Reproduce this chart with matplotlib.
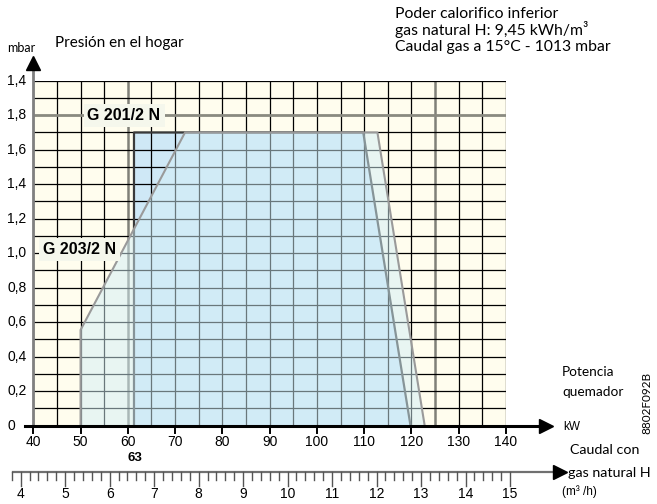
import matplotlib
matplotlib.use("Agg")
import matplotlib.pyplot as plt
import numpy as np
from matplotlib.patches import Polygon
from matplotlib.transforms import blended_transform_factory as btf

# ---------------- data ----------------
kw_ticks = [40, 50, 60, 70, 80, 90, 100, 110, 120, 130, 140]
mbar_ticks = [0, 0.2, 0.4, 0.6, 0.8, 1.0, 1.2, 1.4, 1.6, 1.8, 2.0]
mbar_labels = ["0", "0,2", "0,4", "0,6", "0,8", "1,0", "1,2", "1,4", "1,6", "1,8", "1,4"]
flow_ticks = [4, 5, 6, 7, 8, 9, 10, 11, 12, 13, 14, 15]

# G 201/2 N working field (kW, mbar)
g201_kw = [61.3, 61.3, 109.8, 119.8]
g201_mbar = [0.0, 1.70, 1.70, 0.0]
# G 203/2 N working field (kW, mbar)
g203_kw = [50.0, 50.0, 72.1, 112.8, 122.8]
g203_mbar = [0.0, 0.555, 1.70, 1.70, 0.0]
min_power_label = "63"

W, H = 657, 504
fig = plt.figure(figsize=(W / 100, H / 100), dpi=100)
fig.patch.set_facecolor("white")

# pixel geometry of the main grid
x0p, x1p = 33.3, 506.0
y0p, y1p = 425.7, 80.7
ax = fig.add_axes([x0p / W, 1 - y0p / H, (x1p - x0p) / W, (y0p - y1p) / H])
ax.set_xlim(40, 140)
ax.set_ylim(0, 2.0)
for s in ax.spines.values():
    s.set_visible(False)
ax.set_xticks([])
ax.set_yticks([])
ax.set_facecolor("#fffdee")

# blue field (opaque, below grid)
blue = Polygon(np.column_stack([g201_kw, g201_mbar]), closed=True,
               facecolor="#cfe8f6", edgecolor="none", zorder=1)
ax.add_patch(blue)

# grid
for xv in np.arange(40, 140.1, 5):
    if xv in (60, 125):
        ax.plot([xv, xv], [0, 2.0], color="#808078", lw=1.8, zorder=2)
    else:
        ax.plot([xv, xv], [0, 2.0], color="black", lw=0.9, zorder=2)
for yv in np.arange(0.1, 2.01, 0.1):
    if abs(yv - 1.8) < 1e-6:
        ax.plot([40, 140], [yv, yv], color="#8a8a80", lw=2.0, zorder=2.2)
    else:
        ax.plot([40, 140], [yv, yv], color="black", lw=0.9, zorder=2)

# blue outline
ax.plot(g201_kw, g201_mbar, color="#3a3a3a", lw=1.6, zorder=3)

# light translucent G 203 field on top
light = Polygon(np.column_stack([g203_kw, g203_mbar]), closed=True,
                facecolor=(211 / 255, 239 / 255, 246 / 255), alpha=0.5,
                edgecolor="none", zorder=4)
ax.add_patch(light)
ax.plot(g203_kw, g203_mbar, color="#9a9a9a", lw=1.5, zorder=4.5)

# axes lines with arrows
ax.plot([40, 40], [0, 2.08], color="#808080", lw=2.0, zorder=5, clip_on=False)
ax.plot([40], [2.105], marker="^", ms=9.5, color="black", zorder=6, clip_on=False)
ax.plot([38.25, 147.5], [0, 0], color="black", lw=2.2, zorder=5, clip_on=False)
ax.plot([148.4], [0], marker=">", ms=9.5, color="black", zorder=6, clip_on=False)

# x ticks
for xv in kw_ticks:
    ax.plot([xv, xv], [0, -0.04], color="black", lw=1.4, clip_on=False, zorder=5)

tr_x = btf(ax.transData, fig.transFigure)
tr_y = btf(fig.transFigure, ax.transData)
for xv in kw_ticks:
    ax.text(xv, 1 - 442 / H, str(xv), transform=tr_x, ha="center", va="center",
            fontsize=10, family="Liberation Sans")
ax.text(61.6, 1 - 458 / H, min_power_label, transform=tr_x, ha="center", va="center",
        fontsize=9.5, family="Liberation Sans", fontweight="bold")
for yv, lab in zip(mbar_ticks, mbar_labels):
    ax.text(7 / W, yv, lab, transform=tr_y, ha="left", va="center",
            fontsize=10, family="Liberation Sans")

# series labels
box = dict(boxstyle="square,pad=0.25", facecolor="#f5f7ec", edgecolor="none")
ax.text(59.2, 1.8, "G 201/2 N", ha="center", va="center", fontsize=11.5,
        family="Liberation Sans", fontweight="bold", bbox=box, zorder=7)
ax.text(49.7, 1.02, "G 203/2 N", ha="center", va="center", fontsize=11.5,
        family="Liberation Sans", fontweight="bold", bbox=box, zorder=7)

# ---------------- secondary flow axis (m3/h) ----------------
ax2 = fig.add_axes([0, 0, 1, 1], facecolor="none")
ax2.set_axis_off()
p4, p15 = 20.7, 510.0
ppu = (p15 - p4) / 11.0
ax2.set_xlim(4 - p4 / ppu, 4 + (W - p4) / ppu)
ax2.set_ylim(H, 0)
qline0 = 4 - (p4 - 13) / ppu
qarrow = 4 + (554 - p4) / ppu
ax2.plot([qline0, qarrow], [471.7, 471.7], color="#707070", lw=1.6)
ax2.plot([4 + (560 - p4) / ppu], [471.7], marker=">", ms=10, color="black")
for q in np.arange(3.8, 15.001, 0.2):
    major = abs(q - round(q)) < 1e-6
    ax2.plot([q, q], [471.7, 486 if major else 480], color="#555555", lw=1.0)
for q in flow_ticks:
    ax2.text(q, 494, str(q), ha="center", va="center", fontsize=10,
             family="Liberation Sans")

# ---------------- texts in pixel coordinates ----------------
def ptxt(x, y, s, **kw):
    kw.setdefault("family", "Lato")
    ax2.text(x / W * (ax2.get_xlim()[1] - ax2.get_xlim()[0]) + ax2.get_xlim()[0], y, s, **kw)

ptxt(6.7, 48, "mbar", fontsize=9, ha="left", va="center")
ptxt(55, 43, "Presión en el hogar", fontsize=11, ha="left", va="center")
ptxt(395, 18, "Poder calorifico inferior", fontsize=11.3, ha="left", va="baseline")
ptxt(395, 35.5, "gas natural H: 9,45 kWh/m³", fontsize=11.3, ha="left", va="baseline")
ptxt(395, 51, "Caudal gas a 15°C - 1013 mbar", fontsize=11.3, ha="left", va="baseline")
ptxt(562, 372, "Potencia", fontsize=9.8, ha="left", va="center")
ptxt(562, 392, "quemador", fontsize=9.8, ha="left", va="center")
ptxt(563, 427, "kW", fontsize=8.5, ha="left", va="center", family="Liberation Sans")
ptxt(570, 450, "Caudal con", fontsize=10.3, ha="left", va="center")
ptxt(568, 473, "gas natural H", fontsize=10.3, ha="left", va="center")
ptxt(562, 492, "(m³ /h)", fontsize=8.5, ha="left", va="center", family="Liberation Sans")
ptxt(646.7, 403, "8802F092B", fontsize=8.5, ha="center", va="center", rotation=90)

fig.savefig("out.png", dpi=100)
